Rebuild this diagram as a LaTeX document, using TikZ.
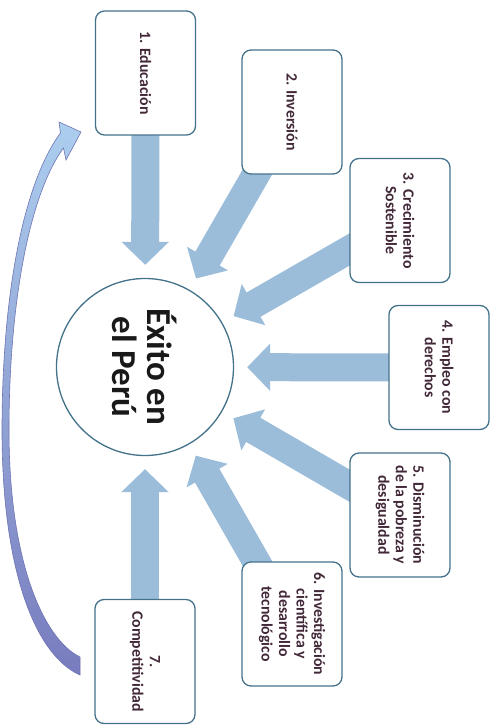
\documentclass[tikz,border=0pt]{standalone}
\usepackage{fontspec}
\setmainfont{Carlito}
\usetikzlibrary{arrows.meta,backgrounds}
\definecolor{boxline}{RGB}{68,114,138}
\definecolor{arrowblue}{RGB}{155,189,218}
\definecolor{boxtext}{RGB}{66,40,56}
\definecolor{hubtext}{RGB}{25,25,25}
\definecolor{curvetop}{RGB}{172,206,238}
\definecolor{curvebot}{RGB}{120,124,190}
\definecolor{curveline}{RGB}{110,116,180}
\tikzset{
  box/.style={draw=boxline, line width=1.3pt, fill=white, rounded corners=9pt,
    rectangle, rotate=-90, minimum width=124pt, minimum height=100pt,
    align=center, text=boxtext, inner sep=2pt,
    font=\bfseries\fontsize{15.8}{17.5}\selectfont},
  hub/.style={draw=boxline, line width=1.3pt, fill=white, circle,
    minimum size=177pt, inner sep=0pt, rotate=-90, align=center,
    text=hubtext, font=\bfseries\fontsize{35}{35}\selectfont},
  bigarrow/.style={draw=arrowblue, line width=28pt,
    -{Triangle[length=23pt,width=46pt]}, shorten >=13pt},
}
\begin{document}
\begin{tikzpicture}[x=1pt,y=-1pt]
\useasboundingbox (0,0) rectangle (492,725);
\node[hub] (c) at (145,367) {Éxito en\\el Perú};
\node[box] (b1) at (145.5,73) {1. Educación};
\node[box] (b2) at (292,112) {2. Inversión};
\node[box] (b3) at (400,220.5) {3. Crecimiento\\Sostenible};
\node[box] (b4) at (439,367.5) {4. Empleo con\\derechos};
\node[box] (b5) at (400,515) {5. Disminución\\de la pobreza y\\desigualdad};
\node[box] (b6) at (292,624) {6. Investigación\\científica y\\desarrollo\\tecnológico};
\node[box] (b7) at (145,661.5) {7.\\Competitividad};
\begin{scope}[on background layer]
  \fill[white] (0,0) rectangle (492,725);
  \draw[bigarrow] (b1.center) -- (c);
  \draw[bigarrow] (b2.center) -- (c);
  \draw[bigarrow] (b3.center) -- (c);
  \draw[bigarrow] (b4.center) -- (c);
  \draw[bigarrow] (b5.center) -- (c);
  \draw[bigarrow] (b6.center) -- (c);
  \draw[bigarrow] (b7.center) -- (c);
  \path[draw=curveline, line width=0.6pt, top color=curvetop, bottom color=curvebot]
    (59,122) -- (81,132) -- (66,160) -- (63.5,148)
    .. controls (29,195) and (9,305) .. (9,430)
    .. controls (9,565) and (45,640) .. (80,657)
    -- (80,675)
    .. controls (35,655) and (2,570) .. (2,430)
    .. controls (2,300) and (22,185) .. (60.5,133) -- cycle;
\end{scope}
\end{tikzpicture}
\end{document}
